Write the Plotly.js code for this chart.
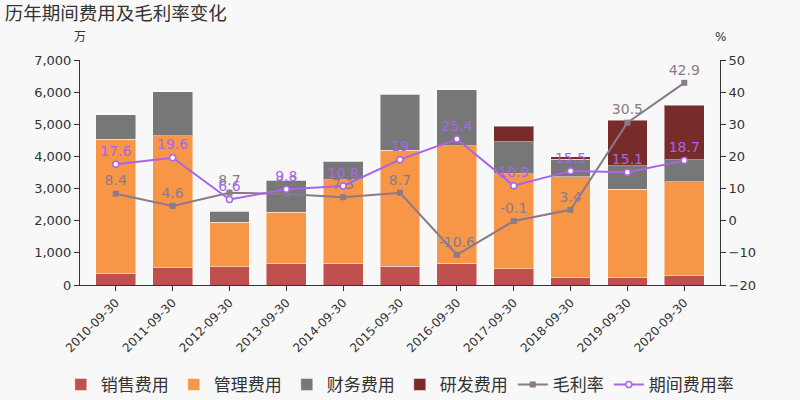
<!DOCTYPE html>
<html>
<head>
<meta charset="utf-8">
<script src="https://cdn.plot.ly/plotly-3.0.1.min.js"></script>
<style>html,body{margin:0;padding:0;background:#f8f8f8;}#chart{width:800px;height:400px;}</style>
</head>
<body>
<div id="chart"></div>
<script>
const categories = ['2010-09-30','2011-09-30','2012-09-30','2013-09-30','2014-09-30','2015-09-30','2016-09-30','2017-09-30','2018-09-30','2019-09-30','2020-09-30'];
const salesExp = [350, 540, 570, 660, 660, 580, 680, 510, 230, 230, 290];
const adminExp = [4190, 4100, 1390, 1610, 2610, 3620, 3660, 2950, 3140, 2750, 2915];
const finExp = [750, 1380, 340, 990, 580, 1740, 1730, 1000, 540, 725, 685];
const rdExp = [0, 0, 0, 0, 0, 0, 0, 480, 80, 1420, 1710];
const grossMargin = [8.4, 4.6, 8.7, 8.3, 7.3, 8.7, -10.6, -0.1, 3.4, 30.5, 42.9];
const periodRate = [17.6, 19.6, 6.6, 9.8, 10.8, 19, 25.4, 10.9, 15.5, 15.1, 18.7];

const FONT = 'DejaVu Sans, Noto Sans CJK SC, sans-serif';
const barLine = {color: 'rgba(255,255,255,0.45)', width: 1};

const traces = [
  {type:'bar', name:'销售费用', x:categories, y:salesExp, marker:{color:'#c0504d', line:barLine}, hoverinfo:'none'},
  {type:'bar', name:'管理费用', x:categories, y:adminExp, marker:{color:'#f79646', line:barLine}, hoverinfo:'none'},
  {type:'bar', name:'财务费用', x:categories, y:finExp, marker:{color:'#777777', line:barLine}, hoverinfo:'none'},
  {type:'bar', name:'研发费用', x:categories, y:rdExp, marker:{color:'#772c2a', line:barLine}, hoverinfo:'none'},
  {type:'scatter', mode:'lines+markers+text', name:'毛利率', x:categories, y:grossMargin, yaxis:'y2',
   line:{color:'#8a7b8a', width:2}, marker:{symbol:'square', size:6, color:'#8a7b8a'},
   text:grossMargin.map(String), textposition:'top center', textfont:{color:'#8a7b8a', size:14, family:FONT}, cliponaxis:false},
  {type:'scatter', mode:'lines+markers+text', name:'期间费用率', x:categories, y:periodRate, yaxis:'y2',
   line:{color:'#a865e8', width:2}, marker:{symbol:'circle', size:6, color:'#ffffff', line:{color:'#a865e8', width:1.5}},
   text:periodRate.map(String), textposition:'top center', textfont:{color:'#a865e8', size:14, family:FONT}, cliponaxis:false}
];

const layout = {
  width:800, height:400,
  paper_bgcolor:'#f8f8f8', plot_bgcolor:'#f8f8f8',
  font:{family:FONT, color:'#333', size:13},
  margin:{l:80, r:80, t:60, b:115, autoexpand:false},
  barmode:'stack', bargap:0.3,
  showlegend:true,
  legend:{orientation:'h', x:-0.03, xanchor:'left', y:-0.444, yanchor:'middle',
          font:{size:17, color:'#333'}, traceorder:'normal', itemwidth:30, tracegroupgap:0},
  title:{text:'历年期间费用及毛利率变化', x:0.006, xanchor:'left', y:0.965, yanchor:'middle', font:{size:18.5, color:'#333', family:FONT}},
  xaxis:{type:'category', automargin:false, showline:true, linecolor:'#333', linewidth:1, ticks:'outside', ticklen:5, tickcolor:'#333',
         tickangle:-45, tickfont:{size:12}, showgrid:false, zeroline:false},
  yaxis:{range:[0,7000], dtick:1000, tickformat:',', automargin:false, showline:true, linecolor:'#333', ticks:'outside', ticklen:5, tickcolor:'#333',
         showgrid:false, zeroline:false},
  yaxis2:{range:[-20,50], dtick:10, overlaying:'y', side:'right', automargin:false, showline:true, linecolor:'#333', ticks:'outside', ticklen:5, tickcolor:'#333',
          showgrid:false, zeroline:false},
  annotations:[
    {text:'万', xref:'paper', yref:'paper', x:0, y:1.1, xanchor:'center', yanchor:'middle', showarrow:false, font:{size:12, color:'#333'}},
    {text:'%', xref:'paper', yref:'paper', x:1, y:1.1, xanchor:'center', yanchor:'middle', showarrow:false, font:{size:12, color:'#333'}}
  ]
};

Plotly.newPlot('chart', traces, layout, {displayModeBar:false, staticPlot:true});
</script>
</body>
</html>
